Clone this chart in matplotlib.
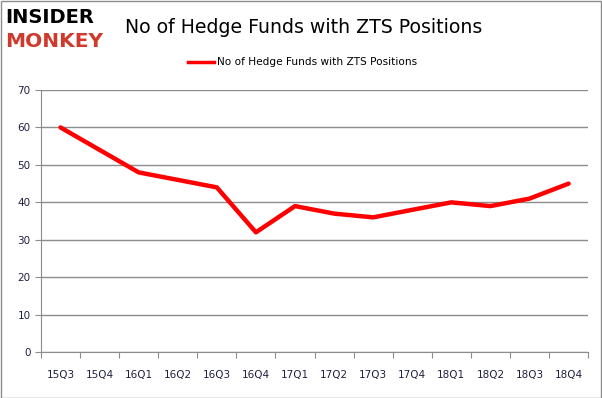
import matplotlib.pyplot as plt
from matplotlib.lines import Line2D

quarters = ['15Q3', '15Q4', '16Q1', '16Q2', '16Q3', '16Q4', '17Q1',
            '17Q2', '17Q3', '17Q4', '18Q1', '18Q2', '18Q3', '18Q4']
funds = [60, 54, 48, 46, 44, 32, 39, 37, 36, 38, 40, 39, 41, 45]
series_name = 'No of Hedge Funds with ZTS Positions'

fig = plt.figure(figsize=(6.02, 3.98), dpi=100)
ax = fig.add_axes([0.068, 0.115, 0.909, 0.659])

x = list(range(len(quarters)))
ax.plot(x, funds, color='#ff0000', lw=3.2, solid_capstyle='round', solid_joinstyle='round')

ax.set_xlim(-0.5, len(quarters) - 0.5)
ax.set_ylim(0, 70)
ax.set_yticks(range(0, 71, 10))
ax.yaxis.grid(True, color='#8c8c8c', lw=1)
ax.set_axisbelow(True)

# category labels sit between the boundary tick marks
ax.set_xticks([i - 0.5 for i in range(len(quarters) + 1)])
ax.set_xticklabels([])
ax.set_xticks(x, minor=True)
ax.set_xticklabels(quarters, minor=True, fontsize=7.5, color='#1f1f3f')
ax.tick_params(axis='x', which='major', length=4, direction='out', color='#8c8c8c')
ax.tick_params(axis='x', which='minor', length=0, pad=13)
ax.tick_params(axis='y', length=4, color='#8c8c8c', labelsize=7.5, labelcolor='#1f1f3f')

for s in ['top', 'right']:
    ax.spines[s].set_visible(False)
for s in ['left', 'bottom']:
    ax.spines[s].set_color('#8c8c8c')

# title, logo and legend
fig.text(0.207, 0.93, series_name, fontsize=13.6, va='center', ha='left', color='black')
fig.text(0.008, 0.955, 'INSIDER', fontsize=14, fontweight='heavy', color='black',
         va='center', ha='left')
fig.text(0.008, 0.895, 'MONKEY', fontsize=14.5, fontweight='heavy', color='#d0392b',
         va='center', ha='left')
handle = Line2D([], [], color='#ff0000', lw=2.5)
fig.legend([handle], [series_name], loc='center', bbox_to_anchor=(0.503, 0.843),
           frameon=False, fontsize=7.6, handlelength=2.4, handletextpad=0.3)

# outer border
fig.patches.append(plt.Rectangle((0.001, 0.001), 0.997, 0.997, transform=fig.transFigure,
                                 fill=False, edgecolor='#8c8c8c', lw=1))

fig.savefig('out.png', dpi=100)
